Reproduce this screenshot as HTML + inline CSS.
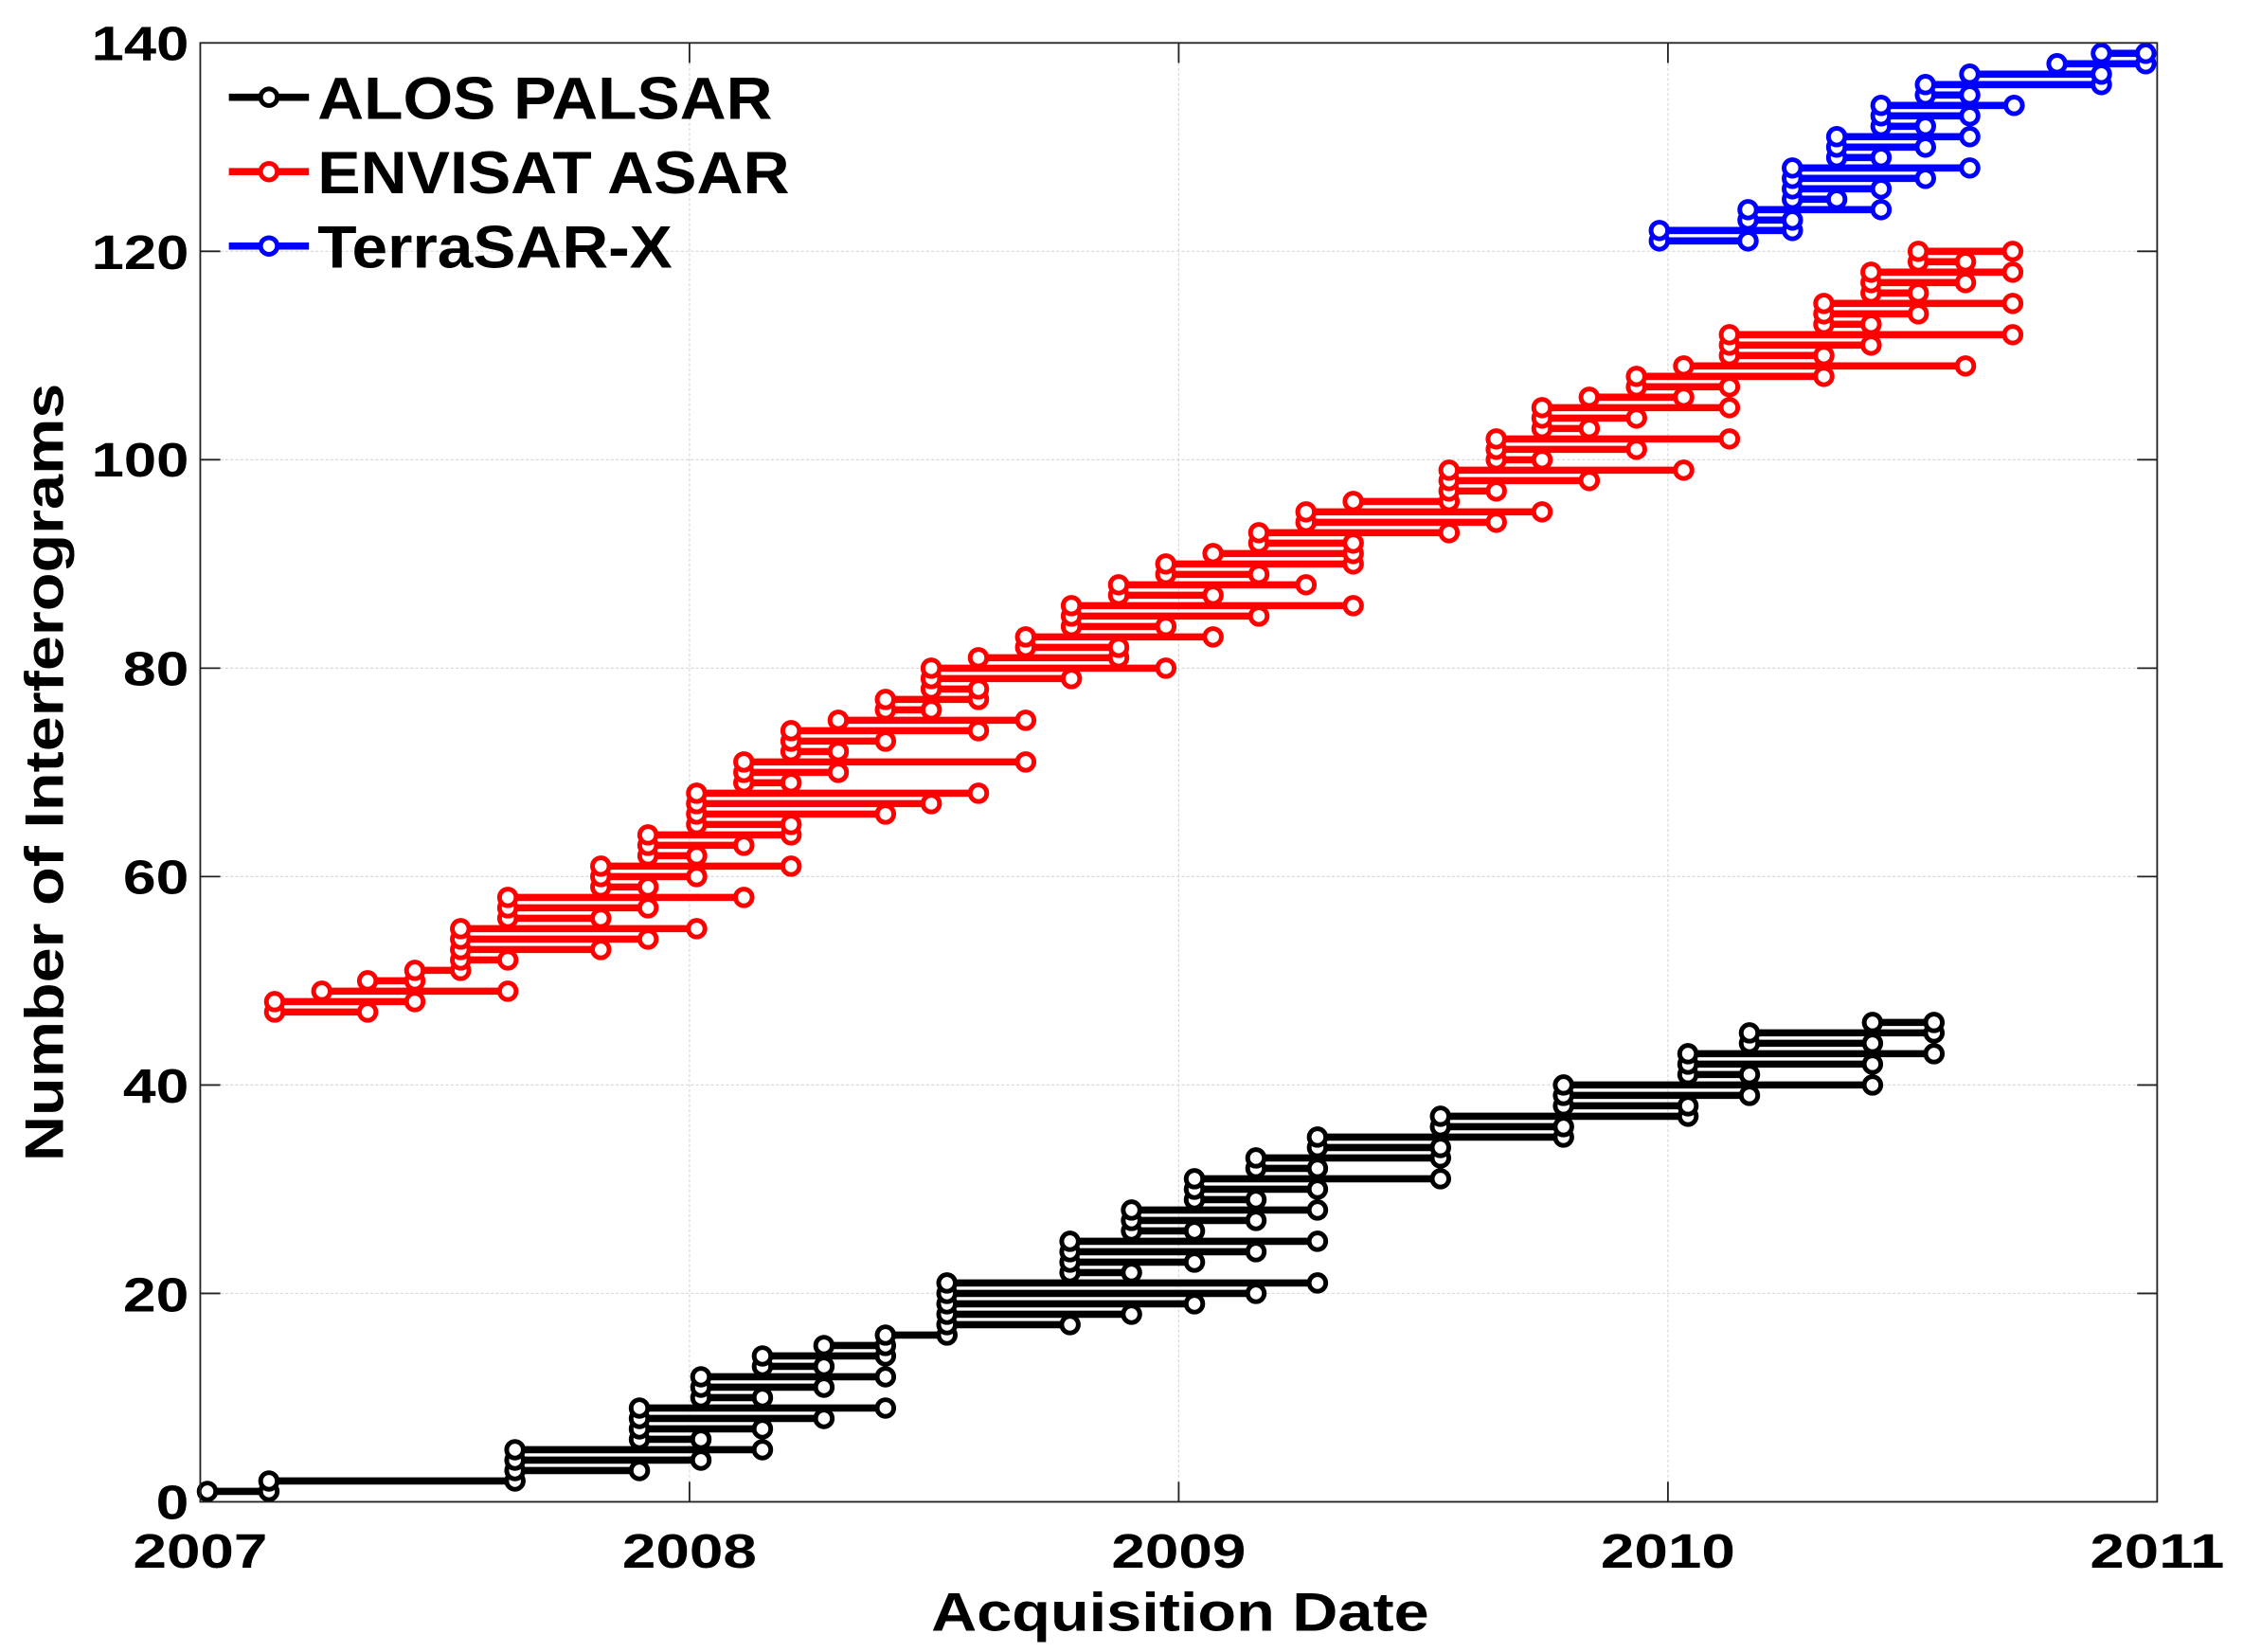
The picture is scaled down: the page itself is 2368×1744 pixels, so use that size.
<!DOCTYPE html>
<html><head><meta charset="utf-8"><style>
html,body{margin:0;padding:0;background:#fff}
svg{display:block}
text{font-family:"Liberation Sans",Arial,sans-serif;font-weight:bold;fill:#000}
</style></head><body>
<svg id="s" width="2368" height="1744" viewBox="0 0 1568 1155" preserveAspectRatio="none" xmlns="http://www.w3.org/2000/svg">
<rect x="0" y="0" width="1568" height="1155" fill="#fff"/>
<g id="grid" stroke="#d8d8d8" stroke-width="0.8" stroke-dasharray="2,1.5"></g>
<g id="data"></g>
<rect x="140" y="30" width="1368" height="1020" fill="none" stroke="#222" stroke-width="1.2"/>
<g id="ticks" stroke="#222" stroke-width="1.2"></g>
<g font-size="34" text-anchor="end">
<text x="132" y="42" textLength="68" lengthAdjust="spacingAndGlyphs">140</text>
<text x="132" y="188" textLength="68" lengthAdjust="spacingAndGlyphs">120</text>
<text x="132" y="333" textLength="68" lengthAdjust="spacingAndGlyphs">100</text>
<text x="132" y="479" textLength="46" lengthAdjust="spacingAndGlyphs">80</text>
<text x="132" y="625" textLength="46" lengthAdjust="spacingAndGlyphs">60</text>
<text x="132" y="771" textLength="46" lengthAdjust="spacingAndGlyphs">40</text>
<text x="132" y="917" textLength="46" lengthAdjust="spacingAndGlyphs">20</text>
<text x="132" y="1062" textLength="23" lengthAdjust="spacingAndGlyphs">0</text>
</g>
<g font-size="34" text-anchor="middle">
<text x="140" y="1096" textLength="94" lengthAdjust="spacingAndGlyphs">2007</text>
<text x="482" y="1096" textLength="94" lengthAdjust="spacingAndGlyphs">2008</text>
<text x="824" y="1096" textLength="94" lengthAdjust="spacingAndGlyphs">2009</text>
<text x="1166" y="1096" textLength="94" lengthAdjust="spacingAndGlyphs">2010</text>
<text x="1508" y="1096" textLength="94" lengthAdjust="spacingAndGlyphs">2011</text>
</g>
<text x="825" y="1140" font-size="38" text-anchor="middle" textLength="348" lengthAdjust="spacingAndGlyphs">Acquisition Date</text>
<text transform="translate(44,540) rotate(-90)" font-size="38" text-anchor="middle" textLength="544" lengthAdjust="spacingAndGlyphs">Number of Interferograms</text>
<g id="legend"></g>
<g font-size="42">
<text x="222" y="83" textLength="318" lengthAdjust="spacingAndGlyphs">ALOS PALSAR</text>
<text x="222" y="135" textLength="330" lengthAdjust="spacingAndGlyphs">ENVISAT ASAR</text>
<text x="222" y="187" textLength="248" lengthAdjust="spacingAndGlyphs">TerraSAR-X</text>
</g>
</svg>
<script>
var NS="http://www.w3.org/2000/svg";
function el(p,t,a){var e=document.createElementNS(NS,t);for(var k in a)e.setAttribute(k,a[k]);p.appendChild(e);return e;}
var L=140,R=1508,T=30,B=1050,U=(B-T)/140;
function Y(v){return B-v*U;}
var g=document.getElementById('grid'),tk=document.getElementById('ticks');
for(var v=20;v<140;v+=20){el(g,'line',{x1:L,x2:R,y1:Y(v),y2:Y(v)});}
for(var i=1;i<4;i++){var x=L+i*342;el(g,'line',{x1:x,x2:x,y1:T,y2:B});}
for(var v=20;v<140;v+=20){el(tk,'line',{x1:L,x2:L+14,y1:Y(v),y2:Y(v)});el(tk,'line',{x1:R,x2:R-14,y1:Y(v),y2:Y(v)});}
for(var i=1;i<4;i++){var x=L+i*342;el(tk,'line',{x1:x,x2:x,y1:B,y2:B-14});el(tk,'line',{x1:x,x2:x,y1:T,y2:T+14});}
var A=[[1,145,188],[2,188,360],[3,360,447],[4,360,490],[5,360,533],[6,447,490],[7,447,533],[8,447,576],[9,447,619],[10,490,533],[11,490,576],[12,490,619],[13,533,576],[14,533,619],[15,576,619],[16,619,662],[17,662,748],[18,662,791],[19,662,835],[20,662,878],[21,662,921],[22,748,791],[23,748,835],[24,748,878],[25,748,921],[26,791,835],[27,791,878],[28,791,921],[29,835,878],[30,835,921],[31,835,1007],[32,878,921],[33,878,1007],[34,921,1007],[35,921,1093],[36,1007,1093],[37,1007,1180],[38,1093,1180],[39,1093,1223],[40,1093,1309],[41,1180,1223],[42,1180,1309],[43,1180,1352],[44,1223,1309],[45,1223,1352],[46,1309,1352]];
var E=[[47,192,257],[48,192,290],[49,225,355],[50,257,290],[51,290,322],[52,322,355],[53,322,420],[54,322,453],[55,322,487],[56,355,420],[57,355,453],[58,355,520],[59,420,453],[60,420,487],[61,420,553],[62,453,487],[63,453,520],[64,453,553],[65,487,553],[66,487,619],[67,487,651],[68,487,684],[69,520,553],[70,520,586],[71,520,717],[72,553,586],[73,553,619],[74,553,684],[75,586,717],[76,619,651],[77,619,684],[78,651,684],[79,651,749],[80,651,815],[81,684,782],[82,717,782],[83,717,848],[84,749,815],[85,749,880],[86,749,946],[87,782,848],[88,782,913],[89,815,880],[90,815,946],[91,848,946],[92,880,946],[93,880,1013],[94,913,1046],[95,913,1078],[96,946,1013],[97,1013,1046],[98,1013,1111],[99,1013,1177],[100,1046,1078],[101,1046,1144],[102,1046,1209],[103,1078,1111],[104,1078,1144],[105,1078,1209],[106,1111,1177],[107,1144,1209],[108,1144,1275],[109,1177,1374],[110,1209,1275],[111,1209,1308],[112,1209,1407],[113,1275,1308],[114,1275,1341],[115,1275,1407],[116,1308,1341],[117,1308,1374],[118,1308,1407],[119,1341,1374],[120,1341,1407]];
var X=[[121,1160,1222],[122,1160,1253],[123,1222,1253],[124,1222,1315],[125,1253,1284],[126,1253,1315],[127,1253,1346],[128,1253,1377],[129,1284,1315],[130,1284,1346],[131,1284,1377],[132,1315,1346],[133,1315,1377],[134,1315,1408],[135,1346,1377],[136,1346,1469],[137,1377,1469],[138,1438,1500],[139,1469,1500]];
var d=document.getElementById('data');
function draw(arr,c){arr.forEach(function(s){var y=Y(s[0]);var gg=el(d,'g',{});
el(gg,'line',{x1:s[1],x2:s[2],y1:y,y2:y,stroke:c,'stroke-width':5});
el(gg,'circle',{cx:s[1],cy:y,r:5.8,fill:'#fff',stroke:c,'stroke-width':3.3});
el(gg,'circle',{cx:s[2],cy:y,r:5.8,fill:'#fff',stroke:c,'stroke-width':3.3});});}
draw(A,'#000');draw(E,'#f00');draw(X,'#00f');
var lg=document.getElementById('legend');
[[68,'#000'],[120,'#f00'],[172,'#00f']].forEach(function(p){
el(lg,'line',{x1:160,x2:216,y1:p[0],y2:p[0],stroke:p[1],'stroke-width':5});
el(lg,'circle',{cx:188,cy:p[0],r:5.8,fill:'#fff',stroke:p[1],'stroke-width':3.3});});
</script>
</body></html>
